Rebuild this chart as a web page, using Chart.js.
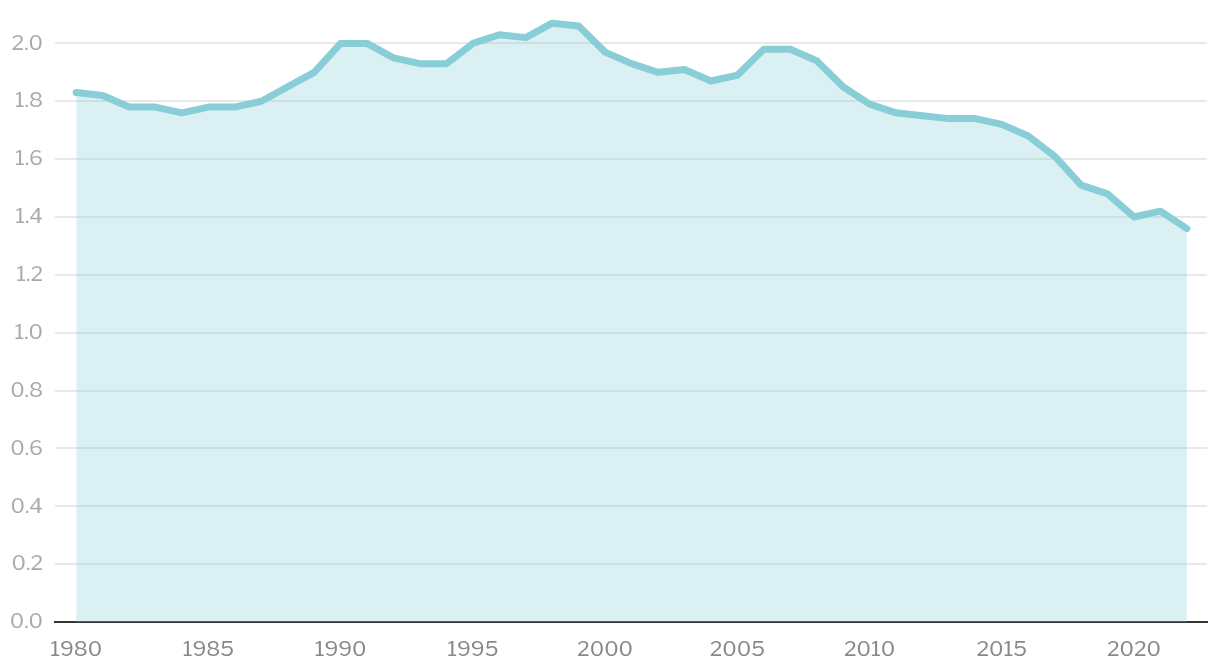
<!DOCTYPE html>
<html>
<head>
<meta charset="utf-8">
<script src="https://cdn.jsdelivr.net/npm/chart.js@4"></script>
<style>
  html, body { margin: 0; padding: 0; background: #fff; }
  #wrap { width: 1220px; height: 672px; }
</style>
</head>
<body>
<div id="wrap"><canvas id="chart"></canvas></div>
<script>
const years = [
  1980, 1981, 1982, 1983, 1984, 1985, 1986, 1987, 1988, 1989,
  1990, 1991, 1992, 1993, 1994, 1995, 1996, 1997, 1998, 1999,
  2000, 2001, 2002, 2003, 2004, 2005, 2006, 2007, 2008, 2009,
  2010, 2011, 2012, 2013, 2014, 2015, 2016, 2017, 2018, 2019,
  2020, 2021, 2022,
];
const values = [
  1.83, 1.82, 1.78, 1.78, 1.76, 1.78, 1.78, 1.80, 1.85, 1.90,
  2.00, 2.00, 1.95, 1.93, 1.93, 2.00, 2.03, 2.02, 2.07, 2.06,
  1.97, 1.93, 1.90, 1.91, 1.87, 1.89, 1.98, 1.98, 1.94, 1.85,
  1.79, 1.76, 1.75, 1.74, 1.74, 1.72, 1.68, 1.61, 1.51, 1.48,
  1.40, 1.42, 1.36,
];
const xTicks = [1980, 1985, 1990, 1995, 2000, 2005, 2010, 2015, 2020];
const yTicks = [0, 0.2, 0.4, 0.6, 0.8, 1.0, 1.2, 1.4, 1.6, 1.8, 2.0];

const FONT = {family: "'Libre Franklin', 'Roboto', 'Liberation Sans', sans-serif", size: 21};

const points = years.map((year, i) => ({x: year, y: values[i]}));

new Chart(document.getElementById('chart'), {
  type: 'line',
  data: {
    datasets: [{
      data: points,
      borderColor: '#89cdd7',
      backgroundColor: 'rgba(137, 205, 215, 0.3)',
      borderWidth: 7,
      borderCapStyle: 'round',
      borderJoinStyle: 'round',
      pointRadius: 0,
      tension: 0,
      fill: 'origin',
      clip: false,
    }],
  },
  options: {
    responsive: true,
    maintainAspectRatio: false,
    animation: false,
    layout: {padding: {top: 4, right: 13, left: 0, bottom: 0}},
    plugins: {legend: {display: false}, tooltip: {enabled: false}},
    scales: {
      x: {
        type: 'linear',
        min: 1979.2,
        max: 2022.76,
        afterBuildTicks: (scale) => { scale.ticks = xTicks.map((value) => ({value})); },
        afterFit: (scale) => { scale.height = 50; },
        grid: {display: false, drawTicks: false},
        border: {display: true, color: '#333', width: 2},
        ticks: {
          color: '#888',
          font: FONT,
          padding: 15,
          maxRotation: 0,
          callback: (value) => String(value),
        },
      },
      y: {
        min: 0,
        max: 2.065,
        afterBuildTicks: (scale) => { scale.ticks = yTicks.map((value) => ({value})); },
        afterFit: (scale) => { scale.width = 55; },
        grid: {color: 'rgba(0, 0, 0, 0.09)', lineWidth: 2, drawTicks: false},
        border: {display: false},
        ticks: {
          color: '#aaa',
          font: FONT,
          padding: 12,
          callback: (value) => value.toFixed(1),
        },
      },
    },
  },
});
</script>
</body>
</html>
